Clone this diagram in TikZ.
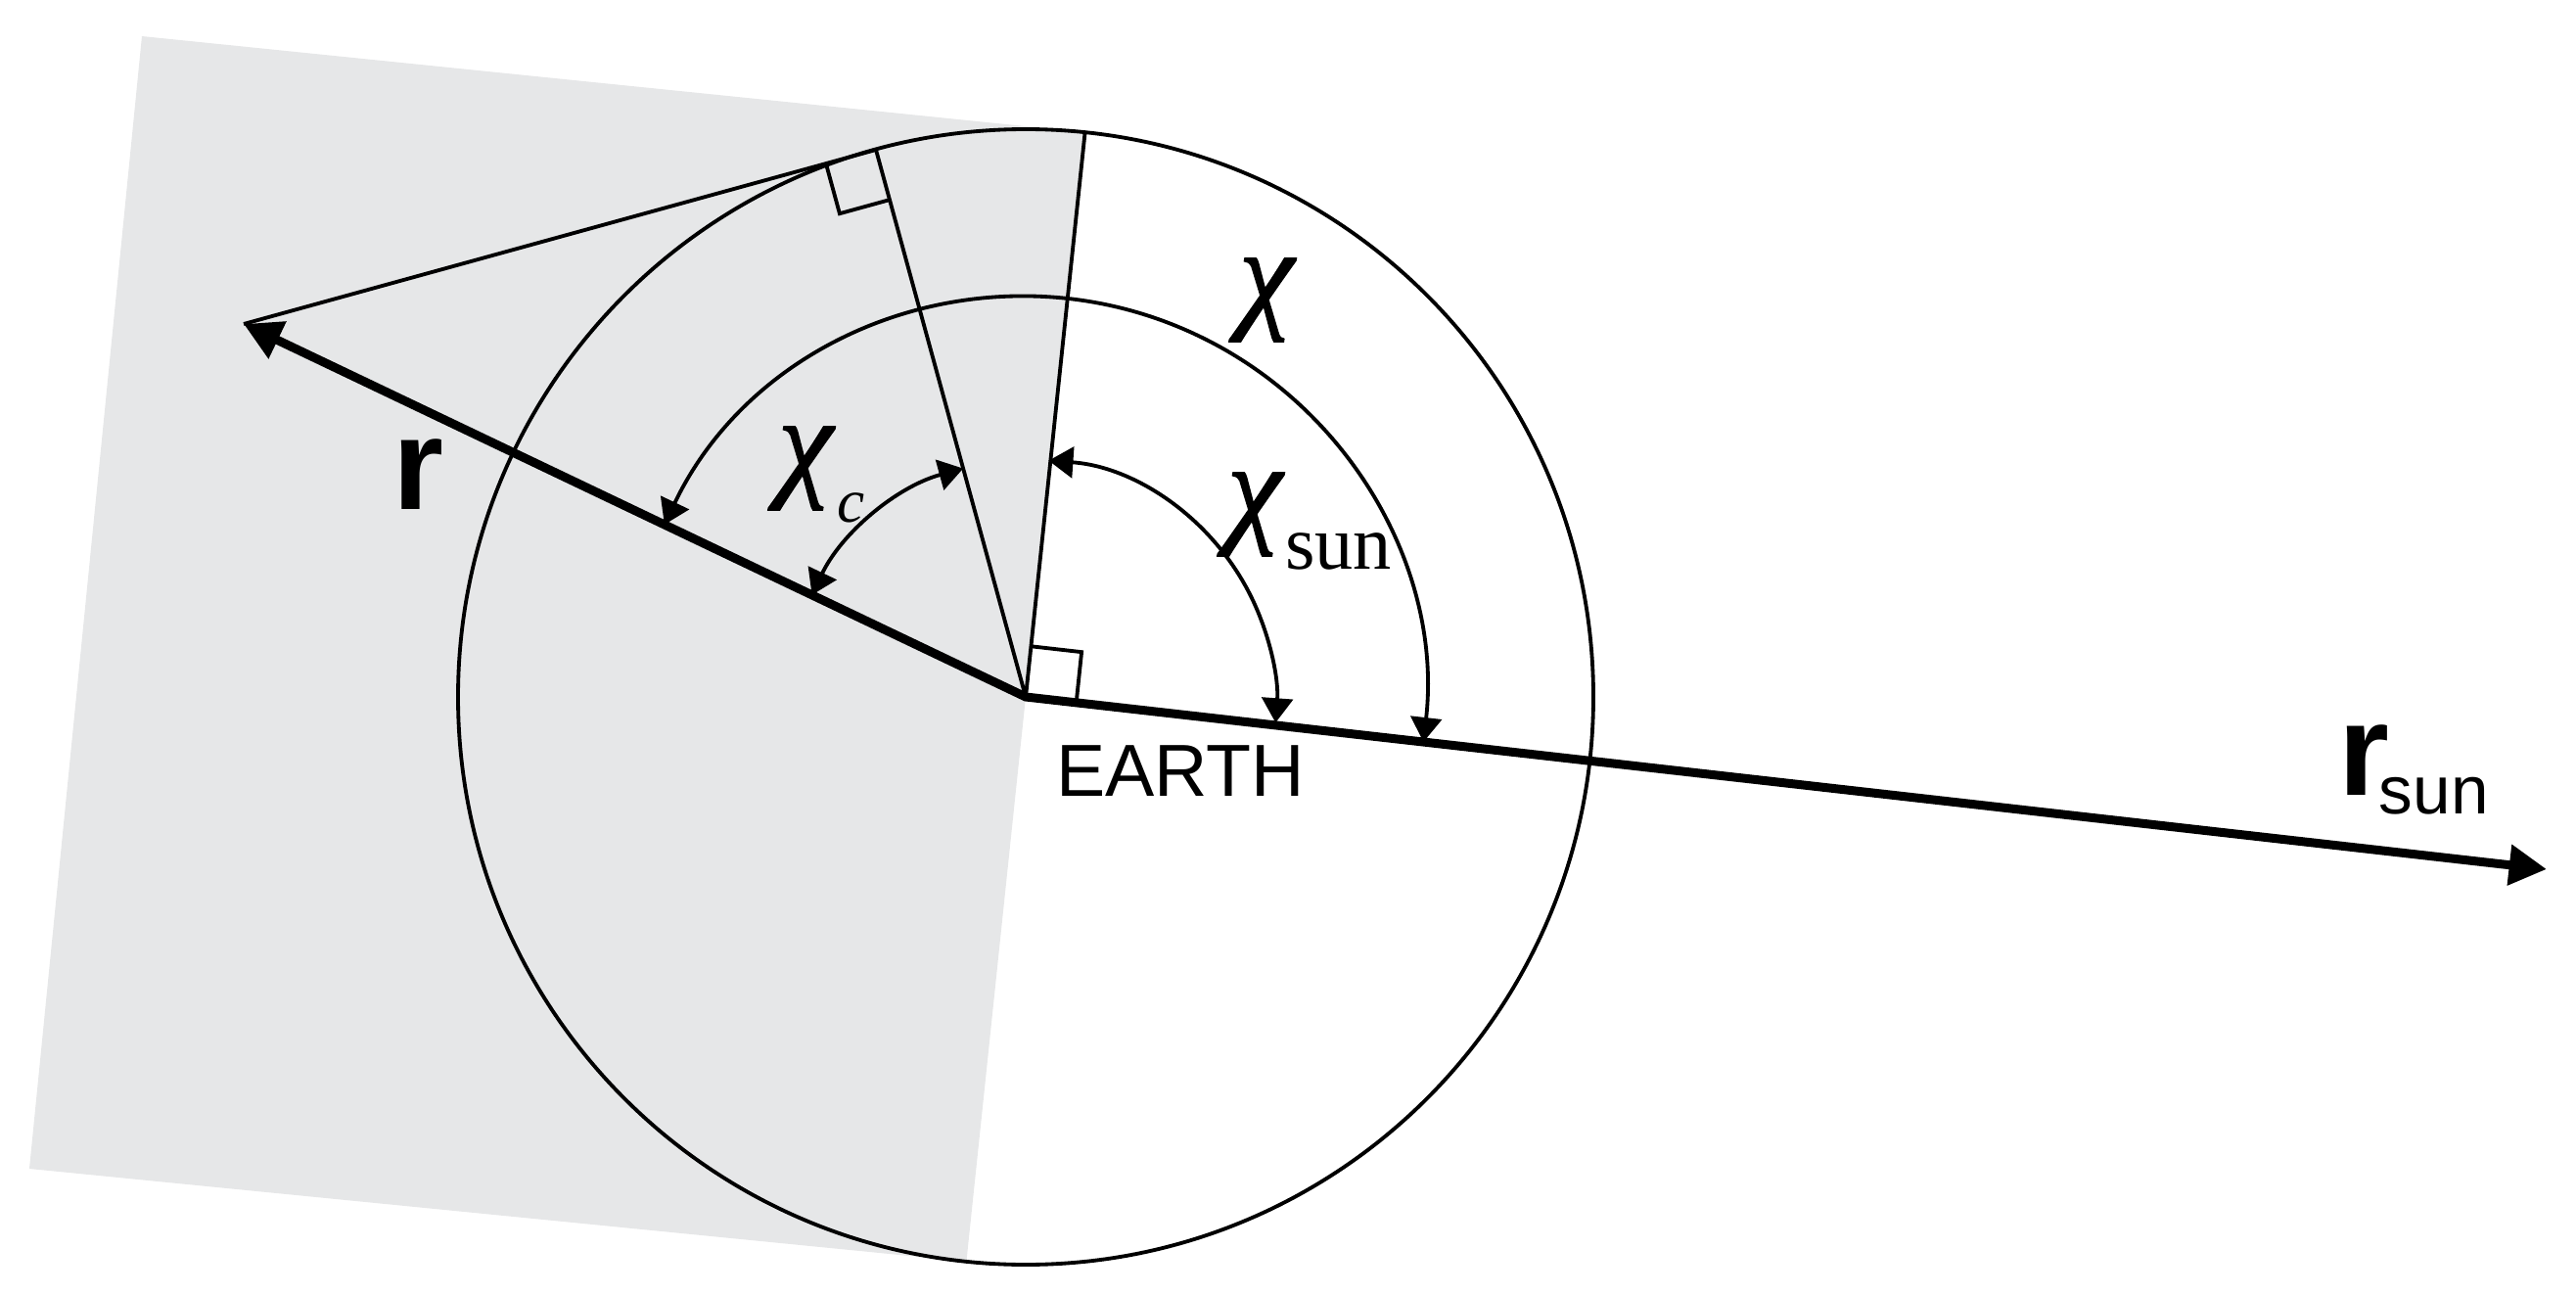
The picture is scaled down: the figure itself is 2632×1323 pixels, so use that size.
\documentclass[tikz,border=0pt]{standalone}
\usepackage{fontspec}
\setmainfont{Liberation Sans}
\newfontfamily\serfont{Liberation Serif}
\newfontfamily\chiserif[FakeBold=1.2]{Liberation Serif}
\usetikzlibrary{arrows.meta,calc}
\definecolor{shadowgray}{RGB}{230,231,232}
\newcommand\chifont{\fontsize{38}{38}\selectfont\chiserif\itshape}
\begin{document}
\begin{tikzpicture}[x=0.3pt,y=-0.3pt,
  thinline/.style={line width=1.15pt},
  thickline/.style={line width=2.7pt, line join=miter},
  vecarrows/.style={{Triangle[length=11.5pt,width=12pt]}-{Triangle[length=11.5pt,width=12pt]}},
  arcarrows/.style={{Triangle[length=7.5pt,width=9.5pt]}-{Triangle[length=7.5pt,width=9.5pt]}},
  lbl/.style={inner sep=0pt, outer sep=0pt}]
\useasboundingbox (0,0) rectangle (2632,1323);
% key points
\coordinate (C) at (1048,712);
\coordinate (T) at (895,153);
\coordinate (rtip) at (249,331);
\coordinate (S) at (2602,888);
\coordinate (Ttop) at (1108.6,135.2);
\coordinate (Tbot) at (987.4,1288.8);
\coordinate (G1) at (145,37);
\coordinate (G2) at (30,1194);
\coordinate (Csun) at (1054,720);
% shadow
\fill[shadowgray] (G1) -- (Ttop) -- (Tbot) -- (G2) -- cycle;
% earth
\draw[thinline] (C) circle[radius=580];
\draw[thinline] (C) -- (Ttop);
\draw[thinline] (C) -- (T);
\draw[thinline] (rtip) -- (T);
% right angle marks
\coordinate (a1) at ($(C)!15.6pt!(Ttop)$);
\coordinate (a2) at ($(C)!15.6pt!(S)$);
\draw[thinline] (a1) -- ($(a1)+(a2)-(C)$) -- (a2);
\coordinate (b1) at ($(T)!15.9pt!(rtip)$);
\coordinate (b2) at ($(T)!15.9pt!(C)$);
\draw[thinline] (b1) -- ($(b1)+(b2)-(T)$) -- (b2);
% vectors
\draw[thickline, vecarrows] (rtip) -- (C) -- (S);
% angle arcs
\draw[thinline, arcarrows] ([shift={(205.5:409)}]C) arc[start angle=205.5, end angle=366.46, radius=409];
\draw[thinline, arcarrows] ([shift={(205.5:242)}]C) arc[start angle=205.5, end angle=254.7, radius=242];
\draw[thinline, arcarrows] ([shift={(-86:250)}]Csun) arc[start angle=-86, end angle=4.2, radius=250];
% labels
\node[lbl, anchor=base west] (lr) at (401,520) {\fontsize{40}{40}\selectfont\bfseries r};
\node[lbl, anchor=base west] (learth) at (1079,813) {\fontsize{22.6}{22.6}\selectfont EARTH};
\node[lbl, anchor=base west] (lrsun) at (2389,812) {\fontsize{40}{40}\selectfont\bfseries r\kern-3pt\raisebox{-5.7pt}{\mdseries\fontsize{20.8}{20.8}\selectfont sun}};
\node[lbl, anchor=north west] (lchi) at (1266,264) {\chifont χ};
\node[lbl, anchor=north west] (lchisun) at (1254,483) {\chifont χ\kern1pt\raisebox{-12pt}{\fontsize{23.5}{23.5}\selectfont\serfont\upshape sun}};
\node[lbl, anchor=north west] (lchic) at (795,436) {\chifont χ\kern1.5pt\raisebox{-11.7pt}{\fontsize{19}{19}\selectfont\serfont\itshape c}};
\end{tikzpicture}
\end{document}
